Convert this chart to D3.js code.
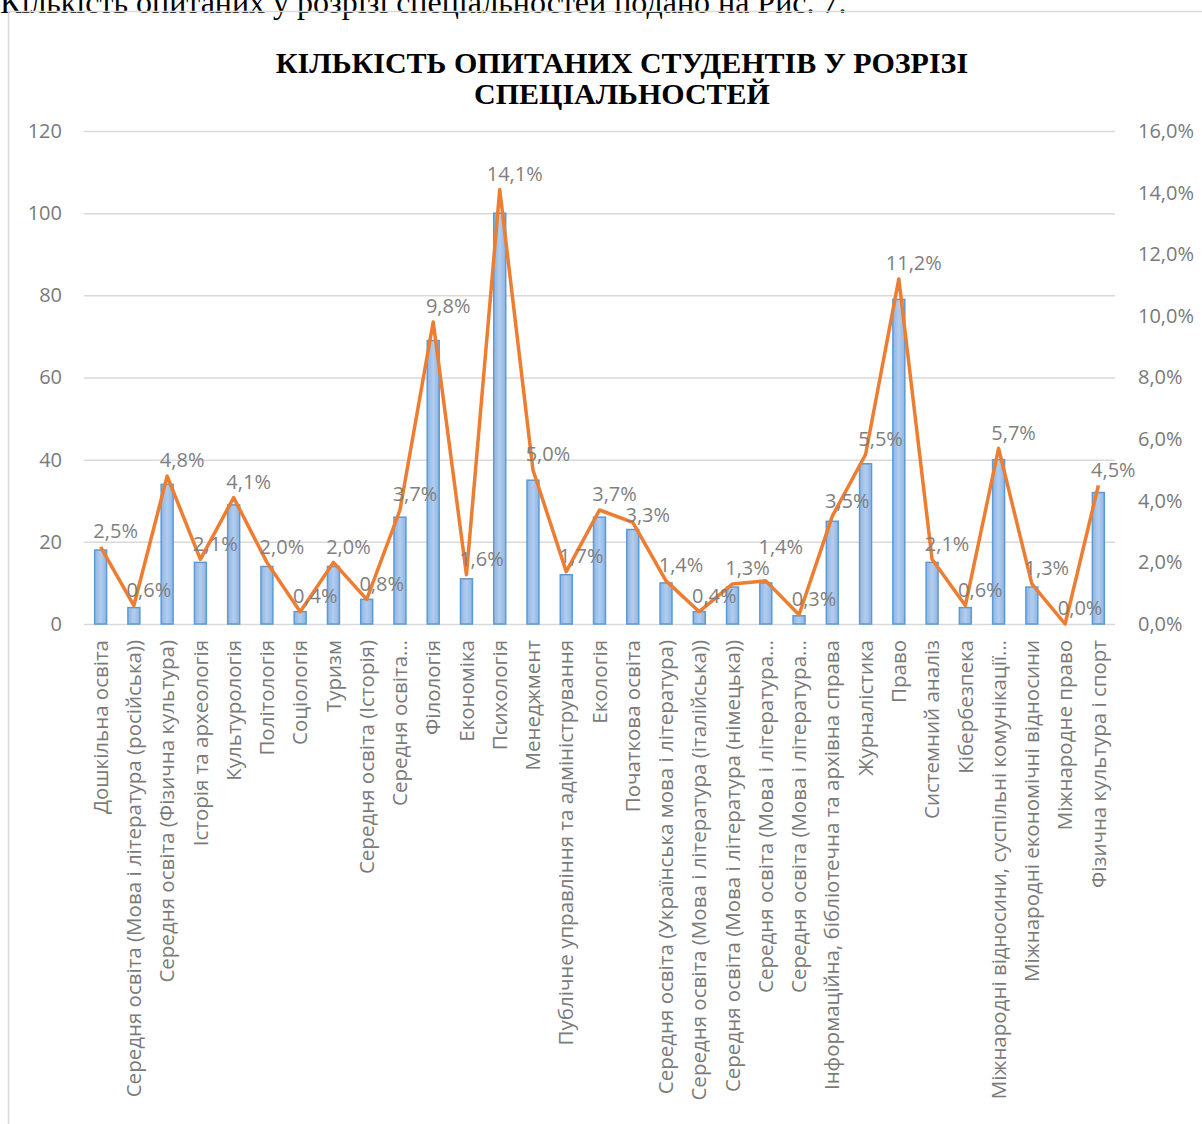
<!DOCTYPE html>
<html>
<head>
<meta charset="utf-8">
<script src="https://cdn.jsdelivr.net/npm/d3@7/dist/d3.min.js"></script>
<style>
  html, body { margin: 0; padding: 0; background: #fff; }
  svg { display: block; }
</style>
</head>
<body>
<svg id="chart" width="1202" height="1124"></svg>
<script>
const categories = [
  "Дошкільна освіта",
  "Середня освіта (Мова і література (російська))",
  "Середня освіта (Фізична культура)",
  "Історія та археологія",
  "Культурологія",
  "Політологія",
  "Соціологія",
  "Туризм",
  "Середня освіта (Історія)",
  "Середня освіта…",
  "Філологія",
  "Економіка",
  "Психологія",
  "Менеджмент",
  "Публічне управління та адміністрування",
  "Екологія",
  "Початкова освіта",
  "Середня освіта (Українська мова і література)",
  "Середня освіта (Мова і література (італійська))",
  "Середня освіта (Мова і література (німецька))",
  "Середня освіта (Мова і література…",
  "Середня освіта (Мова і література…",
  "Інформаційна, бібліотечна та архівна справа",
  "Журналістика",
  "Право",
  "Системний аналіз",
  "Кібербезпека",
  "Міжнародні відносини, суспільні комунікації…",
  "Міжнародні економічні відносини",
  "Міжнародне право",
  "Фізична культура і спорт"
];
const counts = [18, 4, 34, 15, 29, 14, 3, 14, 6, 26, 69, 11, 100, 35, 12, 26, 23, 10, 3, 9, 10, 2, 25, 39, 79, 15, 4, 40, 9, 0, 32];
const shares = [2.5, 0.6, 4.8, 2.1, 4.1, 2.0, 0.4, 2.0, 0.8, 3.7, 9.8, 1.6, 14.1, 5.0, 1.7, 3.7, 3.3, 1.4, 0.4, 1.3, 1.4, 0.3, 3.5, 5.5, 11.2, 2.1, 0.6, 5.7, 1.3, 0.0, 4.5];
const leftTicks = [0, 20, 40, 60, 80, 100, 120];
const rightTicks = [0, 2, 4, 6, 8, 10, 12, 14, 16];
const titleLines = ["КІЛЬКІСТЬ ОПИТАНИХ СТУДЕНТІВ У РОЗРІЗІ", "СПЕЦІАЛЬНОСТЕЙ"];
const captionText = "Кількість опитаних  у розрізі спеціальностей подано на Рис. 7.";

const svg = d3.select("#chart");
const fmt = v => v.toFixed(1).replace(".", ",") + "%";

// caption of the document, cut at the top
svg.append("text")
  .attr("x", 0).attr("y", 13)
  .attr("font-family", "'Liberation Serif', 'Times New Roman', serif")
  .attr("font-size", 32)
  .attr("fill", "#000")
  .text(captionText);

// chart frame
svg.append("rect")
  .attr("x", 8.5).attr("y", 11.5)
  .attr("width", 1202).attr("height", 1120)
  .attr("fill", "none").attr("stroke", "#d9d9d9").attr("stroke-width", 1.5);

// title
const title = svg.append("text")
  .attr("text-anchor", "middle")
  .attr("font-family", "'Liberation Serif', 'Times New Roman', serif")
  .attr("font-weight", "bold")
  .attr("font-size", 30)
  .attr("fill", "#000");
titleLines.forEach((t, i) => {
  title.append("tspan").attr("x", 622).attr("y", 73 + i * 31).text(t);
});

const plot = { left: 84, right: 1115, top: 131, bottom: 624 };

const x = d3.scaleBand().domain(categories.map((c, i) => i))
  .range([plot.left, plot.right]).paddingInner(0.64).paddingOuter(0.32);
const yL = d3.scaleLinear().domain([0, 120]).range([plot.bottom, plot.top]);
const yR = d3.scaleLinear().domain([0, 16]).range([plot.bottom, plot.top]);
const cx = i => x(i) + x.bandwidth() / 2;

// gridlines
svg.append("g")
  .attr("transform", `translate(${plot.left},0)`)
  .call(d3.axisLeft(yL).tickValues(leftTicks).tickSize(-(plot.right - plot.left)).tickFormat(""))
  .call(g => g.select(".domain").remove())
  .call(g => g.selectAll("line").attr("stroke", "#d9d9d9").attr("stroke-width", 1.5));

// left axis labels
svg.append("g")
  .attr("transform", `translate(${plot.left - 22},0)`)
  .call(d3.axisLeft(yL).tickValues(leftTicks).tickSize(0).tickPadding(0))
  .call(g => g.select(".domain").remove())
  .call(g => g.selectAll("text")
    .attr("font-family", "'Open Sans', sans-serif").attr("font-size", 20).attr("fill", "#7a7a7a"));

// right axis labels
svg.append("g")
  .attr("transform", `translate(${plot.right + 23},0)`)
  .call(d3.axisRight(yR).tickValues(rightTicks).tickSize(0).tickPadding(0).tickFormat(d => fmt(d)))
  .call(g => g.select(".domain").remove())
  .call(g => g.selectAll("text")
    .attr("font-family", "'Open Sans', sans-serif").attr("font-size", 20).attr("fill", "#7a7a7a"));

// bar gradient
const defs = svg.append("defs");
const grad = defs.append("linearGradient").attr("id", "barGrad")
  .attr("x1", 0).attr("x2", 1).attr("y1", 0).attr("y2", 0);
grad.append("stop").attr("offset", "0%").attr("stop-color", "#8fb5e3");
grad.append("stop").attr("offset", "50%").attr("stop-color", "#b2cdef");
grad.append("stop").attr("offset", "100%").attr("stop-color", "#8fb5e3");

// bars
svg.append("g").selectAll("rect").data(counts).join("rect")
  .attr("x", (d, i) => x(i))
  .attr("y", d => yL(d))
  .attr("width", x.bandwidth())
  .attr("height", d => yL(0) - yL(d))
  .attr("fill", "url(#barGrad)")
  .attr("stroke", "#5b9bd5").attr("stroke-width", 1.5);

// x axis labels
const xAxis = svg.append("g")
  .attr("transform", `translate(0,${plot.bottom})`)
  .call(d3.axisBottom(x).tickSize(0).tickFormat(i => categories[i]))
  .call(g => g.select(".domain").remove());
xAxis.selectAll("text")
  .attr("font-family", "'Open Sans', sans-serif").attr("font-size", 20.5).attr("fill", "#7a7a7a")
  .attr("text-anchor", "end")
  .attr("dy", "0.35em")
  .attr("transform", "translate(0,16) rotate(-90)")
  .attr("x", 0).attr("y", 0);

// line
const line = d3.line().x((d, i) => cx(i)).y(d => yR(d));
svg.append("path").datum(shares)
  .attr("d", line)
  .attr("fill", "none").attr("stroke", "#ed7d31").attr("stroke-width", 3.5)
  .attr("stroke-linejoin", "round");

// data labels (above-right of each point, nudged apart when they collide)
const labels = svg.append("g").selectAll("text").data(shares).join("text")
  .attr("x", (d, i) => cx(i) + 15)
  .attr("y", d => yR(d) - 14)
  .attr("text-anchor", "middle")
  .attr("dominant-baseline", "middle")
  .attr("font-family", "'Open Sans', sans-serif").attr("font-size", 20).attr("fill", "#7f7f7f")
  .text(d => fmt(d));

const nodes = labels.nodes();
const lh = 21;
for (let i = 1; i < nodes.length; i++) {
  const prev = nodes[i - 1], cur = nodes[i];
  const pb = prev.getBBox(), cb = cur.getBBox();
  const hOverlap = Math.min(pb.x + pb.width, cb.x + cb.width) - Math.max(pb.x, cb.x);
  if (hOverlap <= 0) continue;
  const py = +prev.getAttribute("y"), cy = +cur.getAttribute("y");
  const vOverlap = lh - Math.abs(py - cy);
  if (vOverlap <= 0) continue;
  const up = cy - (py - lh), down = (py + lh) - cy;
  const shift = up < down ? -up : down;
  cur.setAttribute("y", cy + shift);
}
</script>
</body>
</html>
